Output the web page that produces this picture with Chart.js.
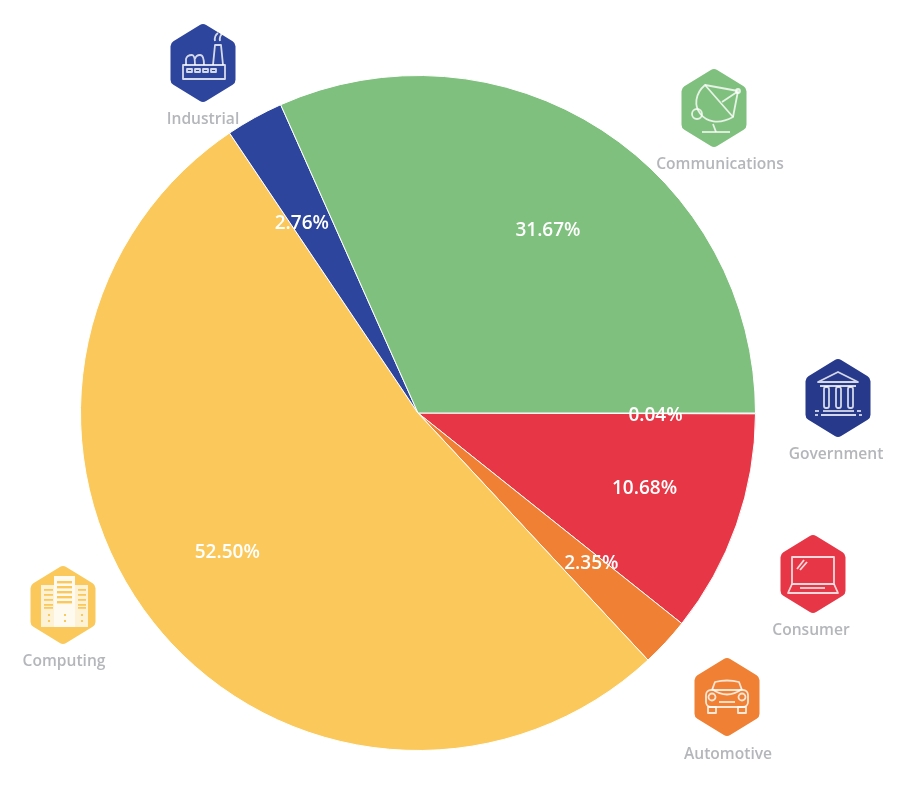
<!DOCTYPE html>
<html>
<head>
<meta charset="utf-8">
<style>
  html, body { margin: 0; padding: 0; background: #fff; }
  #wrap { position: relative; width: 906px; height: 788px; }
</style>
<script src="https://cdn.jsdelivr.net/npm/chart.js@4/dist/chart.umd.min.js"></script>
</head>
<body>
<div id="wrap"><canvas id="pie" width="906" height="788"></canvas></div>
<script>
// Market share by end-use segment, clockwise from three o'clock
const categories = ['Government', 'Consumer', 'Automotive', 'Computing', 'Industrial', 'Communications'];
const shares = [0.04, 10.68, 2.35, 52.50, 2.76, 31.67];
const sliceColors = ['#27398a', '#e73746', '#f08033', '#fbc95b', '#2d459c', '#7fc07e'];

const LABEL_FONT = '"Open Sans", sans-serif';

// Badge anchor for each segment, in the same order as categories
const badgeCenters = [[838, 398], [813, 574], [727, 697], [63, 605], [203, 63], [714, 108]];
const badgeCaptions = [[836, 455], [811, 631], [728, 755], [64, 662], [203, 120], [720, 165]];
// Small hand adjustments that keep the percentages clear of slice edges
const labelNudges = [[8, 2], [10, -1], [5, -5], [-11, -3], [-5, 11], [5, 10]];

function hexPath(ctx) {
  const pts = [[0, -40], [32.5, -20], [32.5, 20], [0, 40], [-32.5, 20], [-32.5, -20]];
  const r = 6;
  ctx.beginPath();
  ctx.moveTo((pts[0][0] + pts[1][0]) / 2, (pts[0][1] + pts[1][1]) / 2);
  for (let i = 1; i <= pts.length; i++) {
    const a = pts[i % 6], b = pts[(i + 1) % 6];
    ctx.arcTo(a[0], a[1], b[0], b[1], r);
  }
  ctx.closePath();
}

function line(ctx, x1, y1, x2, y2) {
  ctx.beginPath();
  ctx.moveTo(x1, y1);
  ctx.lineTo(x2, y2);
  ctx.stroke();
}

function roundBox(ctx, x, y, w, h, r) {
  ctx.beginPath();
  ctx.roundRect(x, y, w, h, r);
}

const glyphs = {
  Industrial(ctx) {
    ctx.strokeRect(-20, 2, 42, 14);
    for (const x of [-16, -8, 0, 8]) ctx.strokeRect(x, 6, 5, 3);
    ctx.beginPath();
    ctx.moveTo(10, 2); ctx.lineTo(12, -18); ctx.lineTo(18, -18); ctx.lineTo(20, 2);
    ctx.stroke();
    ctx.beginPath();
    ctx.moveTo(12, -22); ctx.quadraticCurveTo(11, -27, 15, -30);
    ctx.moveTo(17, -22); ctx.quadraticCurveTo(16, -27, 20, -30);
    ctx.stroke();
    ctx.beginPath();
    ctx.moveTo(-17, 2); ctx.lineTo(-17, -4); ctx.quadraticCurveTo(-16, -8, -11, -8);
    ctx.quadraticCurveTo(-8, -8, -8, 2);
    ctx.moveTo(-8, -4); ctx.quadraticCurveTo(-7, -8, -3, -8);
    ctx.quadraticCurveTo(1, -8, 1, 2);
    ctx.stroke();
  },
  Communications(ctx) {
    ctx.beginPath();
    ctx.moveTo(-9, -23);
    ctx.bezierCurveTo(-30, -5, -10, 25, 19, 9);
    ctx.closePath();
    ctx.stroke();
    ctx.beginPath();
    ctx.moveTo(-9, -23); ctx.lineTo(24, -17); ctx.lineTo(19, 9);
    ctx.moveTo(8, -6); ctx.lineTo(23, -16);
    ctx.stroke();
    ctx.beginPath();
    ctx.arc(-17, 6, 5, 0, Math.PI * 2);
    ctx.stroke();
    ctx.beginPath();
    ctx.arc(24, -17, 2, 0, Math.PI * 2);
    ctx.stroke();
    line(ctx, -12, 24, 16, 24);
    line(ctx, -1, 16, 2, 24);
  },
  Government(ctx) {
    ctx.beginPath();
    ctx.moveTo(-20, -16); ctx.lineTo(0, -26); ctx.lineTo(20, -16); ctx.closePath();
    ctx.stroke();
    line(ctx, -18, -12, 18, -12);
    for (const x of [-14, -2, 10]) {
      roundBox(ctx, x, -11, 5, 21, 2);
      ctx.stroke();
    }
    line(ctx, -15, 13, 16, 13);
    line(ctx, -17, 17, 18, 17);
    line(ctx, -23, 17, -20, 17);
    line(ctx, 21, 17, 24, 17);
    line(ctx, -23, 13, -19, 13);
    line(ctx, 19, 13, 23, 13);
  },
  Consumer(ctx) {
    ctx.strokeRect(-21, -17, 42, 27);
    ctx.beginPath();
    ctx.moveTo(-21, 10); ctx.lineTo(-25, 19); ctx.lineTo(25, 19); ctx.lineTo(21, 10);
    ctx.stroke();
    line(ctx, -13, 14, 12, 14);
    line(ctx, -16, -5, -9, -14);
    line(ctx, -13, -4, -6, -12);
  },
  Automotive(ctx) {
    roundBox(ctx, -21, -7, 42, 17, 5);
    ctx.stroke();
    ctx.beginPath();
    ctx.moveTo(-15, -7); ctx.lineTo(-12, -15); ctx.quadraticCurveTo(0, -18, 12, -15); ctx.lineTo(15, -7);
    ctx.stroke();
    ctx.beginPath();
    ctx.moveTo(-15, -8); ctx.quadraticCurveTo(0, 3, 15, -8);
    ctx.stroke();
    for (const x of [-15, 15]) {
      ctx.beginPath();
      ctx.arc(x, 0, 3.5, 0, Math.PI * 2);
      ctx.stroke();
      ctx.strokeRect(x - 4, 10, 8, 6);
    }
    line(ctx, -8, 5, 8, 5);
  },
  Computing(ctx, color) {
    ctx.fillStyle = '#fdf1d6';
    ctx.fillRect(-22, -20, 13, 42);
    ctx.fillRect(12, -20, 13, 42);
    ctx.fillStyle = '#fffaf0';
    ctx.fillRect(-9, -29, 21, 51);
    ctx.fillStyle = color;
    for (const y of [-24, -19, -14, -9, -4]) ctx.fillRect(-6, y, 15, 2.4);
    for (const y of [-16, -11, -6, -1, 2]) {
      ctx.fillRect(-19, y, 9, 1.8);
      ctx.fillRect(15, y, 8, 1.8);
    }
    for (const x of [-15, 1, 18]) {
      ctx.fillRect(x, 9, 2, 2);
      ctx.fillRect(x, 15, 2, 2);
    }
  }
};

// Hexagonal badges and their captions around the pie
const badgePlugin = {
  id: 'segmentBadges',
  afterDraw(chart) {
    const ctx = chart.ctx;
    categories.forEach((name, i) => {
      const [cx, cy] = badgeCenters[i];
      ctx.save();
      ctx.translate(cx, cy);
      ctx.fillStyle = sliceColors[i];
      hexPath(ctx);
      ctx.fill();
      ctx.strokeStyle = 'rgba(255,255,255,0.8)';
      ctx.lineWidth = 1.8;
      ctx.lineJoin = 'round';
      glyphs[name](ctx, sliceColors[i]);
      ctx.restore();

      const [tx, ty] = badgeCaptions[i];
      ctx.save();
      ctx.font = '600 15.6px ' + LABEL_FONT;
      ctx.fillStyle = '#b4b6ba';
      ctx.textAlign = 'center';
      ctx.textBaseline = 'middle';
      ctx.fillText(name, tx, ty);
      ctx.restore();
    });
  }
};

// Percentage text placed along each slice's bisector
const shareLabelPlugin = {
  id: 'shareLabels',
  afterDatasetsDraw(chart) {
    const ctx = chart.ctx;
    const arcs = chart.getDatasetMeta(0).data;
    ctx.save();
    ctx.font = '600 19px ' + LABEL_FONT;
    ctx.fillStyle = '#ffffff';
    ctx.textAlign = 'center';
    ctx.textBaseline = 'middle';
    arcs.forEach((arc, i) => {
      const mid = (arc.startAngle + arc.endAngle) / 2;
      const r = arc.outerRadius * 0.68;
      const [dx, dy] = labelNudges[i];
      ctx.fillText(shares[i].toFixed(2) + '%', arc.x + Math.cos(mid) * r + dx, arc.y + Math.sin(mid) * r + dy);
    });
    ctx.restore();
  }
};

new Chart(document.getElementById('pie'), {
  type: 'pie',
  data: {
    labels: categories,
    datasets: [{
      data: shares,
      backgroundColor: sliceColors,
      borderColor: '#ffffff',
      borderWidth: 1,
      hoverOffset: 0
    }]
  },
  options: {
    responsive: false,
    animation: false,
    rotation: 90,
    layout: { padding: { left: 80, right: 150, top: 75, bottom: 37 } },
    plugins: { legend: { display: false }, tooltip: { enabled: false } }
  },
  plugins: [shareLabelPlugin, badgePlugin]
});
</script>
</body>
</html>
